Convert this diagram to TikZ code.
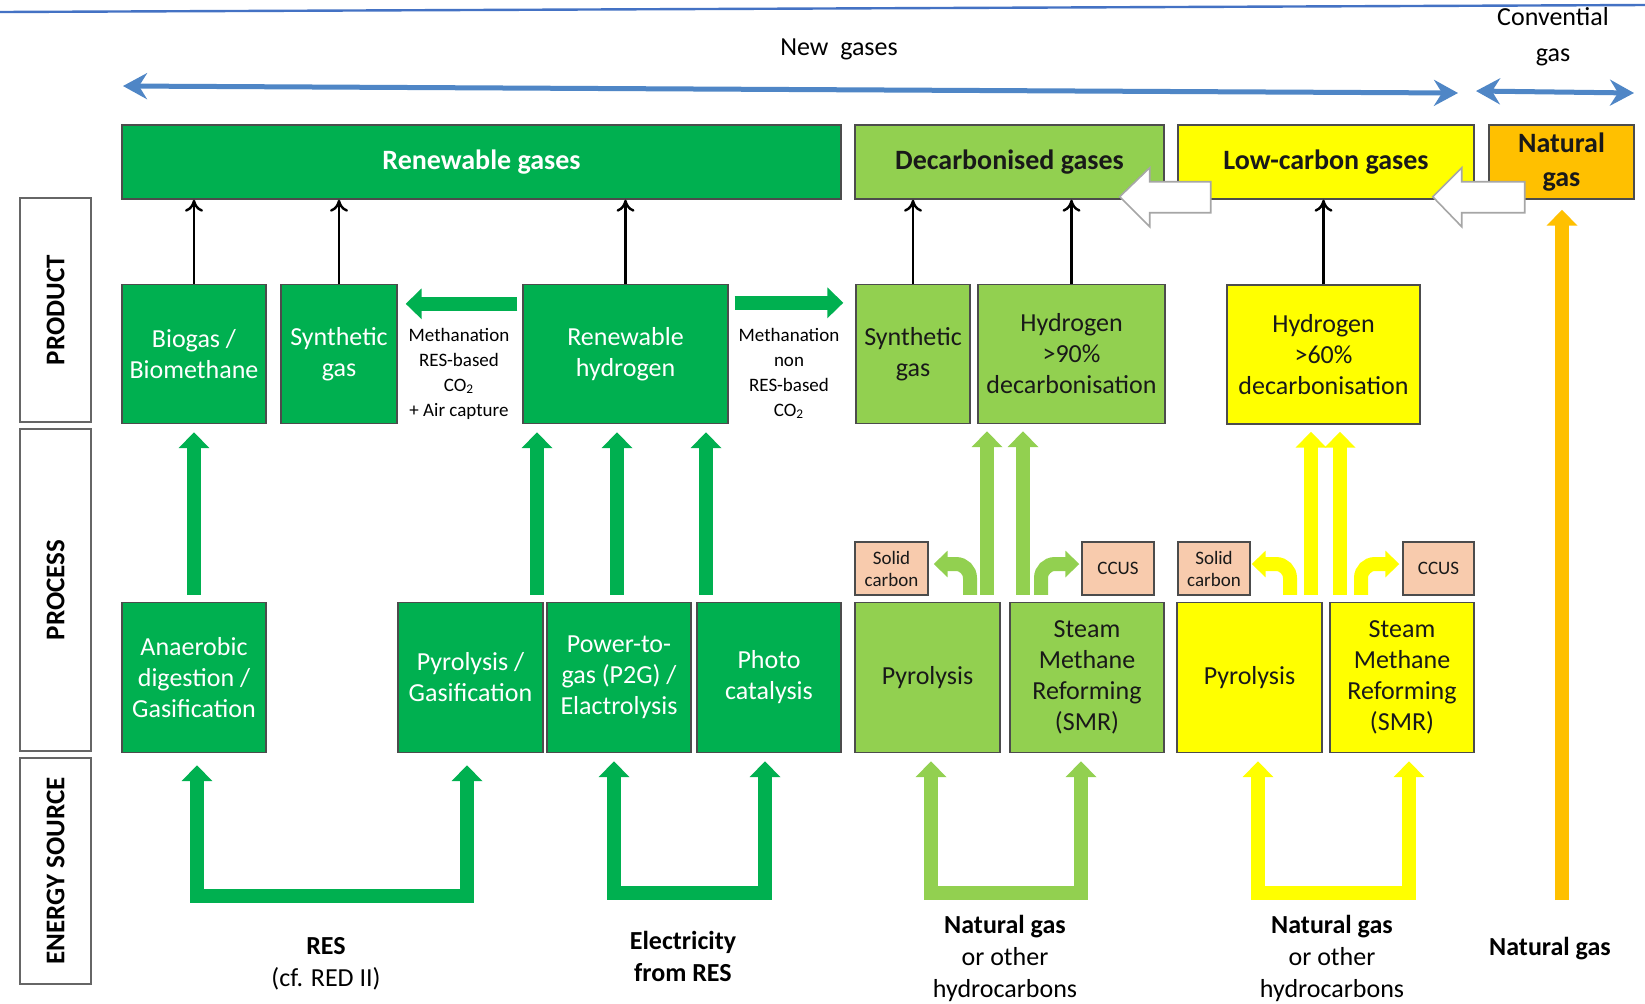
\documentclass[tikz,border=0pt]{standalone}
\usepackage{fontspec}
\setmainfont{Carlito}
\usetikzlibrary{arrows.meta,calc}

\definecolor{renewgreen}{HTML}{00B050}
\definecolor{decarbgreen}{HTML}{92D050}
\definecolor{lowyellow}{HTML}{FFFF00}
\definecolor{natorange}{HTML}{FFC000}
\definecolor{bypeach}{HTML}{F8CBAD}
\definecolor{spanblue}{HTML}{4F86C6}
\definecolor{topblue}{HTML}{4472C4}

\tikzset{
  fattip/.tip={Triangle[width=15pt,length=8pt]},
  curltip/.tip={Triangle[width=13pt,length=7pt]},
  cell/.style={draw=black!70, line width=0.7pt, inner sep=0pt, align=center,
    font=\fontsize{13}{15.5}\selectfont, text=black!90},
  catbox/.style={cell, minimum height=37pt, font=\fontsize{14}{17}\selectfont\bfseries},
  prod/.style={cell, minimum height=69.5pt},
  proc/.style={cell, minimum height=75pt},
  byprod/.style={cell, fill=bypeach, minimum height=26.5pt, font=\fontsize{9.5}{11}\selectfont},
  rowlabel/.style={draw=black!60, line width=0.7pt, rotate=90, minimum height=35.5pt,
    font=\fontsize{13.5}{16}\selectfont\bfseries},
  link/.style={line width=1.2pt, -{To[length=6pt,width=9pt]}},
  fat/.style={line width=7pt, -fattip},
  ufat/.style={line width=7pt, fattip-fattip, line join=miter},
  curl/.style={line width=7pt, -curltip, rounded corners=7pt},
  spanarrow/.style={spanblue, line width=2.5pt,
    {Stealth[length=12pt,width=13pt,inset=4pt]}-{Stealth[length=12pt,width=13pt,inset=4pt]}},
  hollow/.style={draw=black!35, fill=white, line width=0.8pt},
  srclabel/.style={align=center, font=\fontsize{13}{16}\selectfont},
  meth/.style={align=center, font=\fontsize{9.5}{12.5}\selectfont}
}

\begin{document}
\begin{tikzpicture}[x=0.5pt, y=-0.5pt]
\useasboundingbox (0,0) rectangle (1645,1003);
\fill[white] (0,0) rectangle (1645,1003);
\draw[topblue, line width=1.2pt] (0,12) -- (1645,5);
%
% scale of gases
\node[srclabel] (newlbl) at (839,49) {New~ gases};
\node[srclabel, font=\fontsize{13}{18}\selectfont] (convlbl) at (1553,37) {Convential\\gas};
\coordinate (newl) at (123,86);
\coordinate (newr) at (1458,93);
\coordinate (convl) at (1476,91);
\coordinate (convr) at (1634,93);
\draw[spanarrow] (newl) -- (newr);
\draw[spanarrow] (convl) -- (convr);
%
% category boxes
\node[catbox, fill=renewgreen, text=white, minimum width=359.5pt] (rengas) at (481.5,162) {Renewable gases};
\node[catbox, fill=decarbgreen, minimum width=154.5pt] (decgas) at (1009.5,162) {Decarbonised gases};
\node[catbox, fill=lowyellow, minimum width=148pt] (lowgas) at (1326,162) {Low-carbon gases};
\node[catbox, fill=natorange, minimum width=72.5pt] (natgas) at (1561.5,162) {Natural\\gas};
%
\draw[hollow] ($(decgas.south east)+(-45,-3)$) -- ++(30,-29) -- ++(0,14) -- ++(61,0)
  -- ++(0,31) -- ++(-61,0) -- ++(0,14) -- cycle;
\draw[hollow] ($(lowgas.south east)+(-42,-3)$) -- ++(29,-29) -- ++(0,14) -- ++(63,0)
  -- ++(0,31) -- ++(-63,0) -- ++(0,14) -- cycle;
%
% row labels
\node[rowlabel, minimum width=112pt] (lproduct) at (55.5,310) {PRODUCT};
\node[rowlabel, minimum width=161pt] (lprocess) at (55.5,590) {PROCESS};
\node[rowlabel, minimum width=113pt] (lsource) at (55.5,871) {ENERGY SOURCE};
%
% products
\node[prod, fill=renewgreen, text=white, minimum width=72pt] (biogas) at (194,354) {Biogas /\\Biomethane};
\node[prod, fill=renewgreen, text=white, minimum width=58pt] (syngas) at (339,354) {Synthetic\\gas};
\node[prod, fill=renewgreen, text=white, minimum width=102.5pt] (renh) at (625.5,354) {Renewable\\hydrogen};
\node[prod, fill=decarbgreen, minimum width=57pt] (dsyngas) at (913,354) {Synthetic\\gas};
\node[prod, fill=decarbgreen, minimum width=93.5pt] (h90) at (1071.5,354) {Hydrogen\\>90\%\\decarbonisation};
\node[prod, fill=lowyellow, minimum width=96.5pt] (h60) at (1323.5,354.5) {Hydrogen\\>60\%\\decarbonisation};
%
% processes
\node[proc, fill=renewgreen, text=white, minimum width=72pt] (anaer) at (194,677.5) {Anaerobic\\digestion /\\Gasification};
\node[proc, fill=renewgreen, text=white, minimum width=72.5pt] (pyrogas) at (470.5,677.5) {Pyrolysis /\\Gasification};
\node[proc, fill=renewgreen, text=white, minimum width=72pt] (p2g) at (619,677.5) {Power-to-\\gas (P2G) /\\Elactrolysis};
\node[proc, fill=renewgreen, text=white, minimum width=72pt] (photo) at (769,677.5) {Photo\\catalysis};
\node[proc, fill=decarbgreen, minimum width=72.5pt] (dpyro) at (927.5,677.5) {Pyrolysis};
\node[proc, fill=decarbgreen, minimum width=77pt] (dsmr) at (1087,677.5) {Steam\\Methane\\Reforming\\(SMR)};
\node[proc, fill=lowyellow, minimum width=72.5pt] (lpyro) at (1249.5,677.5) {Pyrolysis};
\node[proc, fill=lowyellow, minimum width=72pt] (lsmr) at (1402,677.5) {Steam\\Methane\\Reforming\\(SMR)};
%
% by-products
\node[byprod, minimum width=36.5pt] (dsolid) at (891.5,568.5) {Solid\\carbon};
\node[byprod, minimum width=36pt] (dccus) at (1118,568.5) {CCUS};
\node[byprod, minimum width=36pt] (lsolid) at (1214,568.5) {Solid\\carbon};
\node[byprod, minimum width=35.5pt] (lccus) at (1438.5,568.5) {CCUS};
%
% methanation
\node[meth] (methres) at (459,373.5) {Methanation\\RES-based\\CO\textsubscript{2}\\+ Air capture};
\node[meth] (methnon) at (789,373.5) {Methanation\\non\\RES-based\\CO\textsubscript{2}};
\draw[fat, renewgreen] ($(renh.north west)+(-5,20)$) -- ($(syngas.north east)+(8,20)$);
\draw[fat, renewgreen] ($(renh.north east)+(6,19)$) -- ($(dsyngas.north west)+(-12,19)$);
%
% products to categories
\foreach \p/\c in {biogas/rengas, syngas/rengas, renh/rengas, dsyngas/decgas, h90/decgas, h60/lowgas}
  \draw[link] (\p.north) -- (\p.north |- \c.south);
%
% processes to products
\draw[fat, renewgreen] ($(anaer.north)+(0,-7)$) -- ($(biogas.south)+(0,8)$);
\foreach \s/\dx in {pyrogas/66.5, p2g/-2, photo/-63} {
  \coordinate (up) at ($(\s.north)+(\dx,-7)$);
  \draw[fat, renewgreen] (up) -- ($(up |- renh.south)+(0,8)$);
}
\foreach \s/\dx in {dpyro/59.5, dsmr/-64} {
  \coordinate (up) at ($(\s.north)+(\dx,-7)$);
  \draw[fat, decarbgreen] (up) -- ($(up |- h90.south)+(0,7)$);
}
\foreach \s/\dx in {lpyro/61.5, lsmr/-62} {
  \coordinate (up) at ($(\s.north)+(\dx,-7)$);
  \draw[fat, lowyellow] (up) -- ($(up |- h60.south)+(0,7)$);
}
%
% by-product curls
\draw[curl, decarbgreen] ($(dpyro.north)+(42.5,-7)$) |- ($(dsolid.east)+(5,-4.5)$);
\draw[curl, decarbgreen] ($(dsmr.north)+(-46,-7)$) |- ($(dccus.west)+(-2,-4.5)$);
\draw[curl, lowyellow] ($(lpyro.north)+(40.5,-7)$) |- ($(lsolid.east)+(1,-4.5)$);
\draw[curl, lowyellow] ($(lsmr.north)+(-41,-7)$) |- ($(lccus.west)+(-3,-4.5)$);
%
% energy sources
\draw[ufat, renewgreen] ($(anaer.south)+(3,12)$) -- ++(0,131) -| ($(pyrogas.south)+(-3.5,12)$);
\draw[ufat, renewgreen] ($(p2g.south)+(-5,8)$) -- ++(0,132) -| ($(photo.south)+(-4,8)$);
\draw[ufat, decarbgreen] ($(dpyro.south)+(3.5,8)$) -- ++(0,132) -| ($(dsmr.south)+(-6,8)$);
\draw[ufat, lowyellow] ($(lpyro.south)+(8.5,8)$) -- ++(0,132) -| ($(lsmr.south)+(7,8)$);
\coordinate (ngbase) at (1562,900);
\draw[fat, natorange] (ngbase) -- ($(ngbase |- natgas.south)+(0,10)$);
%
\node[srclabel] (res) at (326,964) {\textbf{RES}\\(cf. RED II)};
\node[srclabel] (elec) at (683,956.5) {\textbf{Electricity}\\\textbf{from RES}};
\node[srclabel] (ngdec) at (1005,958.5) {\textbf{Natural gas}\\or other\\hydrocarbons};
\node[srclabel] (nglow) at (1332,958.5) {\textbf{Natural gas}\\or other\\hydrocarbons};
\node[srclabel] (ngnat) at (1550,949) {\textbf{Natural gas}};
\end{tikzpicture}
\end{document}
